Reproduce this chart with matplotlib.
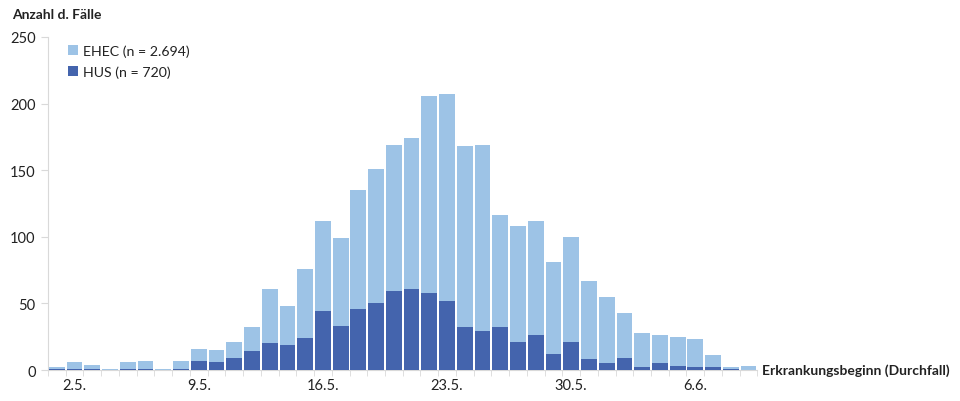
import matplotlib
matplotlib.use("Agg")
import matplotlib.pyplot as plt
import numpy as np

days = ["1.5.", "2.5.", "3.5.", "4.5.", "5.5.", "6.5.", "7.5.", "8.5.", "9.5.", "10.5.",
        "11.5.", "12.5.", "13.5.", "14.5.", "15.5.", "16.5.", "17.5.", "18.5.", "19.5.", "20.5.",
        "21.5.", "22.5.", "23.5.", "24.5.", "25.5.", "26.5.", "27.5.", "28.5.", "29.5.", "30.5.",
        "31.5.", "1.6.", "2.6.", "3.6.", "4.6.", "5.6.", "6.6.", "7.6.", "8.6.", "9.6."]
ehec = [2, 6, 4, 1, 6, 7, 1, 7, 16, 15,
        21, 32, 61, 48, 76, 112, 99, 135, 151, 169,
        174, 206, 207, 168, 169, 116, 108, 112, 81, 100,
        67, 55, 43, 28, 26, 25, 23, 11, 2, 3]
hus = [1, 1, 1, 0, 1, 1, 0, 1, 7, 6,
       9, 14, 20, 19, 24, 44, 33, 46, 50, 59,
       61, 58, 52, 32, 29, 32, 21, 26, 12, 21,
       8, 5, 9, 2, 5, 3, 2, 2, 1, 0]
tick_labels = ["2.5.", "9.5.", "16.5.", "23.5.", "30.5.", "6.6."]
yticks = [0, 50, 100, 150, 200, 250]

plt.rcParams['font.family'] = ['Lato', 'DejaVu Sans']

fig = plt.figure(figsize=(9.6, 4.02), dpi=100)
ax = fig.add_axes([0.05, 0.0771, 0.739, 0.8284])

x = np.arange(len(days))
light = "#9dc3e6"
dark = "#4464ad"
ax.bar(x, ehec, width=0.89, color=light, linewidth=0,
       label="EHEC (n = 2.694)", zorder=2)
ax.bar(x, hus, width=0.89, color=dark, linewidth=0,
       label="HUS (n = 720)", zorder=3)

ax.set_xlim(-0.5, len(days) - 0.5)
ax.set_ylim(0, 250)

for s in ["top", "right"]:
    ax.spines[s].set_visible(False)
ax.spines["left"].set_color("#d9d9d9")
ax.spines["bottom"].set_color("#d9d9d9")

ax.set_yticks(yticks)
ax.tick_params(axis="y", length=5, color="#d9d9d9", labelsize=10.5, labelcolor="#222222", pad=4)

label_idx = [days.index(t) for t in tick_labels]
ax.set_xticks(label_idx)
ax.set_xticklabels(tick_labels)
ax.tick_params(axis="x", length=0, labelsize=10.5, labelcolor="#222222", pad=6)
ax.set_xticks(np.arange(len(days) + 1) - 0.5, minor=True)
ax.tick_params(axis="x", which="minor", length=4, color="#d9d9d9")

fig.text(0.0125, 0.963, "Anzahl d. Fälle", fontsize=10, fontweight="bold",
         color="#222222", va="center", ha="left")
fig.text(0.794, 1 - 371 / 402, "Erkrankungsbeginn (Durchfall)", fontsize=10,
         fontweight="bold", color="#222222", va="center", ha="left")

leg = ax.legend(loc="upper left", bbox_to_anchor=(0.02, 0.995), frameon=False,
                fontsize=10.2, handlelength=0.7, handleheight=0.7, handletextpad=0.35,
                labelspacing=0.6, borderaxespad=0)
for t in leg.get_texts():
    t.set_color("#222222")

fig.savefig("out.png", dpi=100)
